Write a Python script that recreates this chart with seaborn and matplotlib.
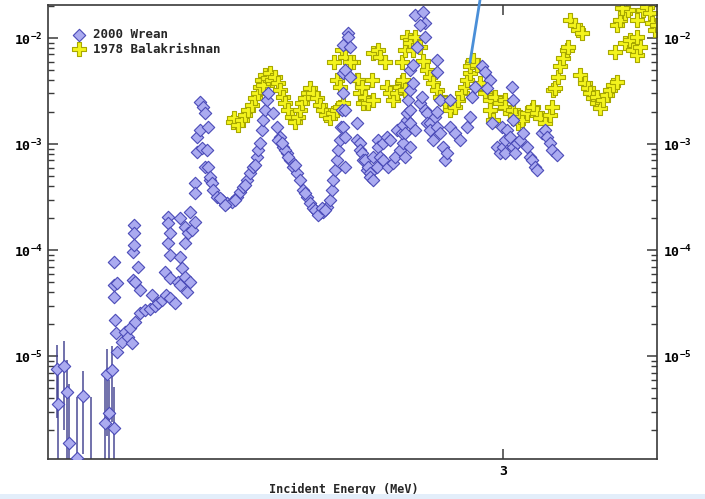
import matplotlib
matplotlib.use("Agg")
import matplotlib.pyplot as plt
from matplotlib.ticker import FixedLocator, LogLocator, NullFormatter, FuncFormatter, NullLocator
from matplotlib.patches import Rectangle
import numpy as np
import pandas as pd
import seaborn as sns

# ---- 2000 Wrean: low-yield points with uncertainties (MeV, b) ----
wrean_low_e = [2.108, 2.110, 2.122, 2.128, 2.132, 2.148, 2.160, 2.176,
               2.204, 2.208, 2.212, 2.218, 2.222]
wrean_low_xs = [7.6e-6, 3.5e-6, 8.0e-6, 4.6e-6, 1.5e-6, 1.1e-6, 4.2e-6, 9.0e-7,
                2.34e-6, 6.75e-6, 2.9e-6, 7.4e-6, 2.1e-6]
wrean_low_dxs = [5.0e-6, 3.5e-6, 6.0e-6, 4.6e-6, 4.0e-6, 3.0e-6, 3.0e-6, 3.2e-6,
                 4.0e-6, 5.0e-6, 3.0e-6, 5.0e-6, 3.0e-6]

# ---- 2000 Wrean: main data set (MeV, b) ----
wrean_e = [
    2.222, 2.222, 2.222, 2.224, 2.226, 2.228, 2.228, 2.238, 2.244, 2.250,
    2.254, 2.258, 2.260, 2.260, 2.262, 2.262, 2.262, 2.264, 2.264, 2.270,
    2.274, 2.274, 2.284, 2.294, 2.298, 2.304, 2.310, 2.318, 2.324, 2.326,
    2.330, 2.330, 2.330, 2.334, 2.334, 2.334, 2.334, 2.344, 2.350, 2.354,
    2.354, 2.354, 2.358, 2.364, 2.364, 2.364, 2.368, 2.370, 2.374, 2.374,
    2.378, 2.384, 2.384, 2.384, 2.388, 2.388, 2.394, 2.394, 2.398, 2.400,
    2.404, 2.404, 2.410, 2.414,
    2.408, 2.410, 2.414, 2.418, 2.420, 2.428, 2.438, 2.448, 2.458, 2.468,
    2.474, 2.480, 2.488, 2.494, 2.500, 2.508, 2.510, 2.514, 2.518, 2.520,
    2.524, 2.528, 2.530, 2.540, 2.548, 2.554, 2.560, 2.568, 2.574, 2.580,
    2.588, 2.594, 2.600, 2.608, 2.614, 2.620, 2.628, 2.634, 2.640, 2.648,
    2.654, 2.658, 2.660, 2.664, 2.668, 2.670, 2.674, 2.676, 2.678, 2.680,
    2.680,
    2.434, 2.444, 2.464, 2.484, 2.504, 2.564, 2.584, 2.604, 2.624, 2.630,
    2.638, 2.644, 2.550, 2.570, 2.558,
    2.680, 2.690, 2.690, 2.694, 2.684, 2.694, 2.684, 2.680, 2.684, 2.684,
    2.708, 2.708, 2.714, 2.714, 2.718, 2.720, 2.724, 2.728, 2.730, 2.734,
    2.734, 2.740, 2.740, 2.748, 2.750, 2.750, 2.754, 2.760, 2.760, 2.768,
    2.770, 2.774, 2.780, 2.784, 2.788, 2.794, 2.800, 2.798, 2.800, 2.804,
    2.804, 2.808, 2.808, 2.814, 2.810, 2.814, 2.814, 2.814, 2.820, 2.814,
    2.820, 2.824, 2.824, 2.840, 2.844, 2.834, 2.844, 2.828, 2.834, 2.838,
    2.844, 2.848, 2.848, 2.854, 2.854, 2.860, 2.864, 2.868, 2.868, 2.868,
    2.868, 2.874, 2.874, 2.880, 2.884, 2.888, 2.894, 2.894, 2.904, 2.914,
    2.928, 2.934, 2.938, 2.944, 2.958, 2.964, 2.974, 2.968, 2.978, 2.988,
    2.994, 2.998, 3.000, 3.004, 3.004, 3.008, 3.014, 3.018, 3.020, 3.020,
    3.020, 3.028, 3.024, 3.034, 3.040, 3.048, 3.054, 3.058, 3.064, 3.068,
    3.078, 3.084, 3.088, 3.094, 3.098, 3.108,
]
wrean_xs = [
    7.8e-5, 4.65e-5, 3.6e-5, 2.2e-5, 1.65e-5, 1.09e-5, 4.85e-5, 1.36e-5, 1.68e-5, 1.51e-5,
    1.85e-5, 1.33e-5, 9.6e-5, 5.2e-5, 1.72e-4, 1.45e-4, 1.11e-4, 2.1e-5, 5.0e-5, 7.0e-5,
    2.53e-5, 4.2e-5, 2.7e-5, 2.8e-5, 3.75e-5, 3.0e-5, 3.2e-5, 3.37e-5, 6.2e-5, 3.75e-5,
    2.06e-4, 1.8e-4, 1.16e-4, 1.45e-4, 8.95e-5, 5.45e-5, 3.5e-5, 3.15e-5, 5.0e-5, 2.01e-4,
    8.57e-5, 4.65e-5, 6.76e-5, 1.65e-4, 1.16e-4, 5.55e-5, 4.0e-5, 1.45e-4, 2.29e-4, 5.0e-5,
    1.55e-4, 1.84e-4, 4.29e-4, 3.46e-4, 8.4e-4, 1.165e-3, 2.49e-3, 1.355e-3, 9.2e-4, 2.23e-3,
    1.96e-3, 6.07e-4, 1.45e-3, 4.59e-4,
    8.77e-4, 6.07e-4, 4.89e-4, 4.29e-4, 3.7e-4, 3.17e-4, 2.97e-4, 2.79e-4, 2.85e-4, 3.17e-4,
    3.54e-4, 3.94e-4, 4.59e-4, 5.33e-4, 6.07e-4, 7.5e-4, 8.77e-4, 1.02e-3, 1.355e-3, 1.68e-3,
    2.09e-3, 2.6e-3, 3.03e-3, 1.96e-3, 1.45e-3, 1.165e-3, 9.4e-4, 8.2e-4, 7.06e-4, 6.07e-4,
    5.33e-4, 4.59e-4, 3.7e-4, 3.17e-4, 2.79e-4, 2.5e-4, 2.29e-4, 2.24e-4, 2.29e-4, 2.55e-4,
    2.97e-4, 3.7e-4, 4.59e-4, 5.69e-4, 7.06e-4, 8.77e-4, 1.09e-3, 1.45e-3, 2.09e-3, 3.03e-3,
    4.7e-3,
    3.1e-4, 2.66e-4, 2.97e-4, 4.12e-4, 6.34e-4, 8.77e-4, 6.34e-4, 3.46e-4, 2.39e-4, 2.15e-4,
    2.5e-4, 2.39e-4, 1.09e-3, 7.5e-4, 1.02e-3,
    8.6e-3, 1.12e-2, 1.02e-2, 8.2e-3, 5.0e-3, 4.3e-3, 2.09e-3, 1.45e-3, 1.165e-3, 6.07e-4,
    1.58e-3, 1.09e-3, 1.02e-3, 8.77e-4, 8.2e-4, 7.06e-4, 7.06e-4, 5.69e-4, 6.07e-4, 5.33e-4,
    4.89e-4, 4.59e-4, 7.5e-4, 6.07e-4, 1.09e-3, 9.4e-4, 7.5e-4, 7.06e-4, 1.02e-3, 1.165e-3,
    6.07e-4, 1.09e-3, 6.6e-4, 7.5e-4, 1.355e-3, 8.77e-4, 1.02e-3, 1.27e-3, 1.51e-3, 1.27e-3,
    7.5e-4, 1.68e-3, 1.96e-3, 2.09e-3, 2.6e-3, 3.23e-3, 1.58e-3, 9.4e-4, 3.75e-3, 5.0e-3,
    5.6e-3, 1.355e-3, 1.65e-2, 1.76e-2, 1.39e-2, 1.33e-2, 1.02e-2, 8.2e-3, 2.44e-3, 2.78e-3,
    2.09e-3, 1.96e-3, 1.58e-3, 1.58e-3, 1.355e-3, 1.09e-3, 1.8e-3, 6.2e-3, 4.8e-3, 2.0e-3,
    1.45e-3, 2.6e-3, 1.27e-3, 9.4e-4, 7.06e-4, 8.2e-4, 2.6e-3, 1.45e-3, 1.27e-3, 1.09e-3,
    1.45e-3, 1.8e-3, 2.78e-3, 3.45e-3, 5.4e-3, 4.8e-3, 4.0e-3, 3.37e-3, 1.58e-3, 9.4e-4,
    8.2e-4, 1.45e-3, 9.4e-4, 1.09e-3, 8.2e-4, 1.355e-3, 1.165e-3, 3.45e-3, 2.6e-3, 1.68e-3,
    9.4e-4, 1.02e-3, 8.2e-4, 1.09e-3, 1.27e-3, 9.4e-4, 7.5e-4, 7.06e-4, 6.07e-4, 5.69e-4,
    1.27e-3, 1.355e-3, 1.165e-3, 1.02e-3, 8.77e-4, 7.87e-4,
]

# ---- 1978 Balakrishnan (MeV, b) ----
bala_e = [
    2.460, 2.462, 2.470, 2.478, 2.484, 2.490, 2.498, 2.504, 2.510, 2.514,
    2.518, 2.520, 2.524, 2.530, 2.534, 2.538, 2.544, 2.550, 2.554, 2.560,
    2.564, 2.570, 2.578, 2.584, 2.590, 2.594, 2.598, 2.604, 2.610, 2.614,
    2.620, 2.628, 2.634, 2.640, 2.646, 2.654, 2.660, 2.668, 2.674, 2.680,
    2.662, 2.668, 2.674, 2.700, 2.708, 2.714, 2.720,
    2.678, 2.684, 2.694, 2.710, 2.718, 2.724, 2.730, 2.740, 2.740, 2.750,
    2.754, 2.764, 2.738, 2.768, 2.774, 2.780, 2.788, 2.794, 2.798, 2.798,
    2.804, 2.808, 2.814, 2.814, 2.820, 2.824, 2.834, 2.800, 2.804, 2.840,
    2.848, 2.854, 2.860, 2.868, 2.874, 2.884, 2.894, 2.904, 2.910, 2.918,
    2.924, 2.928, 2.934, 2.934, 2.938, 2.940, 2.948, 2.954, 2.964, 2.974,
    2.974, 2.980, 2.984, 2.994, 3.004, 3.004, 3.014, 3.020, 3.024, 3.030,
    3.034, 3.038, 3.048, 3.058, 3.060, 3.068, 3.074, 3.084, 3.094, 3.098,
    3.100, 3.104, 3.110, 3.114, 3.120, 3.128, 3.130, 3.134, 3.144, 3.150,
    3.158, 3.154, 3.164, 3.170, 3.174, 3.180, 3.188, 3.194, 3.188, 3.200,
    3.208, 3.214, 3.220, 3.228, 3.224, 3.228, 3.234, 3.244, 3.250, 3.238,
    3.244, 3.254, 3.260, 3.268, 3.274, 3.268, 3.268, 3.280, 3.288, 3.294,
    3.298, 3.304, 3.308,
]
bala_xs = [
    1.61e-3, 1.76e-3, 1.51e-3, 1.68e-3, 1.88e-3, 2.09e-3, 2.33e-3, 2.72e-3, 3.03e-3, 3.45e-3,
    4.0e-3, 3.6e-3, 4.5e-3, 4.2e-3, 4.7e-3, 4.0e-3, 4.3e-3, 3.75e-3, 3.23e-3, 2.78e-3,
    2.44e-3, 2.09e-3, 1.8e-3, 1.61e-3, 1.8e-3, 2.09e-3, 2.44e-3, 2.72e-3, 3.03e-3, 3.37e-3,
    3.03e-3, 2.72e-3, 2.33e-3, 2.09e-3, 1.88e-3, 1.76e-3, 1.96e-3, 2.09e-3, 2.23e-3, 2.44e-3,
    5.9e-3, 4.0e-3, 3.45e-3, 6.0e-3, 4.0e-3, 3.03e-3, 2.44e-3,
    7.7e-3, 6.6e-3, 5.9e-3, 4.0e-3, 3.45e-3, 2.78e-3, 2.44e-3, 2.6e-3, 7.2e-3, 7.7e-3,
    6.6e-3, 5.9e-3, 4.0e-3, 3.45e-3, 3.03e-3, 2.6e-3, 3.03e-3, 3.45e-3, 3.83e-3, 5.9e-3,
    7.7e-3, 1.02e-2, 9.6e-3, 9.0e-3, 7.7e-3, 1.02e-2, 8.2e-3, 4.0e-3, 3.23e-3, 6.07e-3,
    5.0e-3, 4.3e-3, 3.75e-3, 3.23e-3, 2.78e-3, 2.44e-3, 2.09e-3, 2.23e-3, 2.6e-3, 3.03e-3,
    3.45e-3, 4.0e-3, 4.7e-3, 5.4e-3, 5.9e-3, 6.2e-3, 5.6e-3, 3.75e-3, 3.03e-3, 2.6e-3,
    2.09e-3, 1.68e-3, 2.78e-3, 2.44e-3, 2.6e-3, 2.23e-3, 1.96e-3, 2.09e-3, 1.88e-3, 1.58e-3,
    1.8e-3, 1.68e-3, 1.96e-3, 2.09e-3, 2.23e-3, 1.96e-3, 1.76e-3, 1.58e-3, 1.88e-3, 2.23e-3,
    3.23e-3, 3.37e-3, 4.3e-3, 5.4e-3, 6.5e-3, 7.7e-3, 8.2e-3, 1.48e-2, 1.33e-2, 1.19e-2,
    1.12e-2, 4.5e-3, 3.75e-3, 3.37e-3, 3.03e-3, 2.72e-3, 2.44e-3, 2.18e-3, 2.78e-3, 2.6e-3,
    2.9e-3, 3.23e-3, 3.6e-3, 3.83e-3, 7.4e-3, 1.33e-2, 1.48e-2, 1.72e-2, 1.84e-2, 1.92e-2,
    8.95e-3, 9.6e-3, 7.7e-3, 6.9e-3, 8.2e-3, 1.02e-2, 1.48e-2, 1.84e-2, 1.96e-2, 1.72e-2,
    1.39e-2, 1.19e-2, 1.33e-2,
]

legend_labels = ["2000 Wrean", "1978 Balakrishnan"]
x_label = "Incident Energy (MeV)"
x_ticks = [3]

sns.set_style("ticks")
plt.rcParams["font.family"] = ["DejaVu Sans Mono", "DejaVu Sans"]
plt.rcParams["font.weight"] = "bold"
plt.rcParams["mathtext.fontset"] = "custom"
plt.rcParams["mathtext.rm"] = "DejaVu Sans Mono:bold"
plt.rcParams["mathtext.it"] = "DejaVu Sans Mono:bold"
plt.rcParams["mathtext.bf"] = "DejaVu Sans Mono:bold"

W, H = 705, 499
fig = plt.figure(figsize=(W / 100, H / 100), dpi=100)
fig.patch.set_facecolor("white")
ax = fig.add_axes([48 / W, 1 - 459 / H, (657 - 48) / W, (459 - 5) / H])
ax.set_facecolor("white")

diamond_fill = "#ababf0"
diamond_edge = "#4b4bb8"
plus_fill = "#f4f41c"
plus_edge = "#a8a800"

# uncertainty bars for the lowest Wrean points
ax.errorbar(wrean_low_e, wrean_low_xs, yerr=wrean_low_dxs, fmt="none",
            ecolor="#3c3c8c", elinewidth=1.2, capsize=0, zorder=1, alpha=0.85)

low_df = pd.DataFrame({"E": wrean_low_e, "xs": wrean_low_xs})
main_df = pd.DataFrame({"E": wrean_e, "xs": wrean_xs})
bala_df = pd.DataFrame({"E": bala_e, "xs": bala_xs})

sns.scatterplot(data=bala_df, x="E", y="xs", ax=ax, marker="P", s=95,
                color=plus_fill, edgecolor=plus_edge, linewidth=0.8,
                zorder=2, label=legend_labels[1])
sns.scatterplot(data=main_df, x="E", y="xs", ax=ax, marker="D", s=40,
                color=diamond_fill, edgecolor=diamond_edge, linewidth=0.8,
                zorder=3, label=legend_labels[0])
sns.scatterplot(data=low_df, x="E", y="xs", ax=ax, marker="D", s=40,
                color=diamond_fill, edgecolor=diamond_edge, linewidth=0.8,
                zorder=3)

ax.set_yscale("log")
ax.set_xlim(2.09, 3.308)
ax.set_ylim(1.07e-6, 2.05e-2)

# axes styling
for sp in ax.spines.values():
    sp.set_visible(True)
    sp.set_color("#3a3a3a")
    sp.set_linewidth(1.2)

ax.xaxis.set_major_locator(FixedLocator(x_ticks))
ax.xaxis.set_minor_locator(NullLocator())
ax.xaxis.set_major_formatter(FuncFormatter(lambda v, p: f"{v:g}"))
ax.yaxis.set_major_locator(LogLocator(base=10, numticks=12))
ax.yaxis.set_minor_locator(LogLocator(base=10, subs=np.arange(2, 10), numticks=12))
ax.yaxis.set_minor_formatter(NullFormatter())
ax.yaxis.set_major_formatter(
    FuncFormatter(lambda v, p: r"$\mathrm{10^{%d}}$" % int(round(np.log10(v)))))

ax.tick_params(axis="both", which="both", direction="in", colors="#3a3a3a",
               labelcolor="black", labelsize=9.5)
ax.tick_params(axis="y", which="both", left=True, right=True,
               labelleft=True, labelright=True)
ax.tick_params(axis="x", which="both", bottom=True, top=True)
ax.tick_params(axis="both", which="major", length=7, width=1.1, pad=4)
ax.tick_params(axis="y", which="minor", length=4, width=1.0)

ax.set_xlabel(x_label, fontsize=8.5, fontweight="bold")
ax.xaxis.set_label_coords(0.485, -0.052)
ax.set_ylabel("")

# legend: Wrean first, then Balakrishnan
handles, labels = ax.get_legend_handles_labels()
order = [labels.index(l) for l in legend_labels]
leg = ax.legend([handles[i] for i in order], [labels[i] for i in order],
                loc="upper left", bbox_to_anchor=(0.025, 0.965), frameon=False,
                fontsize=9, handletextpad=0.4, borderaxespad=0.2,
                labelspacing=0.1, handlelength=1.4)
for t in leg.get_texts():
    t.set_fontweight("bold")

# pointer line to a Balakrishnan point
ax.annotate("", xy=(2.934, 5.9e-3), xycoords="data",
            xytext=(480, H), textcoords="figure pixels",
            arrowprops=dict(arrowstyle="-", color="#4a8fd8", lw=2,
                            shrinkA=0, shrinkB=0),
            annotation_clip=False, zorder=6)

# thin pale band along the bottom edge
fig.patches.append(Rectangle((0, 0), 1, 5 / H, transform=fig.transFigure,
                             facecolor="#e3eefa", edgecolor="none", zorder=0))

fig.savefig("out.png", dpi=100, facecolor="white")
